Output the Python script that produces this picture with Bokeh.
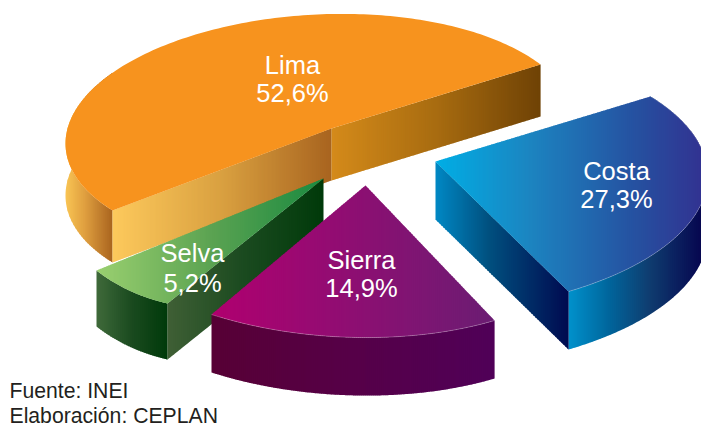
import numpy as np
from bokeh.plotting import figure
from bokeh.models import Range1d, ColumnDataSource
from bokeh.core.properties import value
from bokeh.embed import file_html
from bokeh.resources import INLINE

# ---- data -------------------------------------------------------------
categories = ["Lima", "Costa", "Sierra", "Selva"]
shares = [52.6, 27.3, 14.9, 5.2]
source_lines = ["Fuente: INEI", "Elaboración: CEPLAN"]

# ---- layout of each exploded wedge (page pixels) -----------------------
# c: apex, a/b: rim ends; rim: (fraction of sweep, point) guides for the projection
W, H = 701, 424
geom = {
    "Lima":   dict(c=(331, 128), a=(540, 64),  b=(112, 210), rim=[(0.40, (300, 15)), (0.84, (65, 142))], d=52),
    "Costa":  dict(c=(435, 161), a=(650, 96),  b=(568, 291), rim=[(0.5, (704, 195))], d=58),
    "Sierra": dict(c=(365, 185), a=(494, 320), b=(211, 314), rim=[(0.5, (358, 337))], d=58),
    "Selva":  dict(c=(323, 178), a=(167, 303), b=(96, 270),  rim=[(0.5, (131, 291))], d=56),
}
label_pos = {"Lima": (292, 78, 14), "Costa": (616, 184, 14), "Sierra": (361, 273, 14), "Selva": (192, 267, 15)}

style = {
    "Lima": dict(
        top=[(0, "#f7931e"), (1, "#f7931e")],
        outer=[(0, "#f9c554"), (0.4, "#e0a040"), (1, "#a9641f")], outer_clip=(60, 112),
        inner=[("b", "c", [(0, "#fdc95c"), (0.5, "#d9a040"), (1, "#a8641f")]),
               ("c", "a", [(0, "#d48a1a"), (0.5, "#a86c10"), (1, "#6f4205")])]),
    "Costa": dict(
        top=[(0, "#00aee5"), (0.35, "#1c84c0"), (0.75, "#264f9f"), (1, "#333090")],
        outer=[(0, "#0091cc"), (0.3, "#00669c"), (0.6, "#0f3d70"), (1, "#06054f")], outer_clip=(568, 702),
        inner=[("c", "b", [(0, "#0088c4"), (0.4, "#00507f"), (1, "#000a50")])]),
    "Sierra": dict(
        top=[(0, "#b0006f"), (0.35, "#980a72"), (1, "#6b1d73")],
        outer=[(0, "#570035"), (0.5, "#560048"), (1, "#500058")], outer_clip=(200, 500),
        inner=[]),
    "Selva": dict(
        top=[(0, "#9ad070"), (0.5, "#5ca352"), (1, "#1a8a40")],
        outer=[(0, "#3f6a3a"), (0.5, "#1a4a1f"), (1, "#003a0a")], outer_clip=(96, 167),
        inner=[("b_", "c", [(0, "#3f5f35"), (0.5, "#1a4a1f"), (1, "#003a0a")])]),
}
STEP = 2.0
OVERLAP = 0.7


def homography(src, dst):
    rows = []
    for (x, y), (u, v) in zip(src, dst):
        rows.append([x, y, 1, 0, 0, 0, -u * x, -u * y, -u])
        rows.append([0, 0, 0, x, y, 1, -v * x, -v * y, -v])
    return np.linalg.svd(np.array(rows, float))[2][-1].reshape(3, 3)


def arc_points(g, share, n=160):
    """The wedge's rim: its sweep comes from the share, projected by a homography."""
    theta = share / 100 * 2 * np.pi
    unit = lambda t: (np.cos(t), np.sin(t))
    src = [unit(0), unit(theta)] + [unit(f * theta) for f, _ in g["rim"]]
    dst = [g["a"], g["b"]] + [pt for _, pt in g["rim"]]
    if len(g["rim"]) == 1:
        src.append((0, 0)); dst.append(g["c"])
    M = homography(src, dst)
    t = np.linspace(0, theta, n)
    q = M @ np.vstack([np.cos(t), np.sin(t), np.ones_like(t)])
    return q[0] / q[2], q[1] / q[2]


def clip_x(xs, ys, lo, hi):
    pts = list(zip(xs, ys))
    for bound, keep in ((lo, lambda x: x >= lo), (hi, lambda x: x <= hi)):
        out = []
        for i, (x0, y0) in enumerate(pts):
            x1, y1 = pts[(i + 1) % len(pts)]
            if keep(x0):
                out.append((x0, y0))
            if keep(x0) != keep(x1):
                k = (bound - x0) / (x1 - x0)
                out.append((bound, y0 + k * (y1 - y0)))
        pts = out
        if not pts:
            return [], []
    return [p[0] for p in pts], [p[1] for p in pts]


def hex2rgb(h):
    return np.array([int(h[i:i + 2], 16) for i in (1, 3, 5)], float)


def colour(stops, f):
    f = min(max(f, 0), 1)
    for (f0, c0), (f1, c1) in zip(stops, stops[1:]):
        if f <= f1:
            k = 0 if f1 == f0 else (f - f0) / (f1 - f0)
            r = hex2rgb(c0) * (1 - k) + hex2rgb(c1) * k
            return "#%02x%02x%02x" % tuple(int(round(v)) for v in r)
    return stops[-1][1]


def add_gradient(out, xs, ys, stops, lo=None, hi=None):
    lo = min(xs) if lo is None else max(lo, min(xs))
    hi = max(xs) if hi is None else min(hi, max(xs))
    if stops[0][1] == stops[-1][1] and len(stops) == 2:
        out["xs"].append(list(xs)); out["ys"].append(list(ys)); out["c"].append(stops[0][1])
        return
    x = lo
    while x < hi:
        sx, sy = clip_x(xs, ys, x, min(x + STEP + OVERLAP, hi))
        if sx:
            out["xs"].append(sx); out["ys"].append(sy)
            out["c"].append(colour(stops, (x + STEP / 2 - lo) / (hi - lo)))
        x += STEP


p = figure(width=W, height=H, x_range=Range1d(0, W), y_range=Range1d(H, 0),
           output_backend="svg", toolbar_location=None, min_border=0)
p.axis.visible = False
p.grid.visible = False
p.outline_line_color = None
p.background_fill_color = "#ffffff"

shapes = dict(xs=[], ys=[], c=[])
edges = dict(xs=[], ys=[])
for name in ["Lima", "Selva", "Sierra", "Costa"]:
    g, s = geom[name], style[name]
    share = shares[categories.index(name)]
    ax, ay = arc_points(g, share)
    d = g["d"]
    wx = list(ax) + list(ax[::-1])
    wy = list(ay) + list((ay + d)[::-1])
    add_gradient(shapes, wx, wy, s["outer"], *s["outer_clip"])
    for k0, k1, stops in s["inner"]:
        p0 = g[k0] if k0 != "b_" else g["a"]
        p1 = g[k1]
        add_gradient(shapes, [p0[0], p1[0], p1[0], p0[0]],
                     [p0[1], p1[1], p1[1] + d, p0[1] + d], stops)
    add_gradient(shapes, [g["c"][0]] + list(ax), [g["c"][1]] + list(ay), s["top"])
    edges["xs"].append(list(ax)); edges["ys"].append(list(ay))

p.patches("xs", "ys", source=ColumnDataSource(shapes), fill_color="c", line_color=None)
hl = dict(xs=[edges["xs"][2], edges["xs"][3]], ys=[edges["ys"][2], edges["ys"][3]])
p.multi_line("xs", "ys", source=ColumnDataSource(hl), line_color="#ffffff", line_alpha=0.35, line_width=0.7)

lx, ly, lt = [], [], []
for name, share in zip(categories, shares):
    x, y, gap = label_pos[name]
    lx += [x, x]; ly += [y - gap, y + gap]
    lt += [name, f"{share:.1f}".replace(".", ",") + "%"]
p.text(lx, ly, text=lt, text_color="#ffffff", text_font=value("Liberation Sans"),
       text_font_size="25.5px", text_align="center", text_baseline="middle")
p.text([9, 9], [390, 415], text=source_lines, text_color="#231f20", text_font=value("Liberation Sans"),
       text_font_size="21.2px", text_align="left", text_baseline="middle")

open("out.html", "w").write(file_html(p, INLINE))
